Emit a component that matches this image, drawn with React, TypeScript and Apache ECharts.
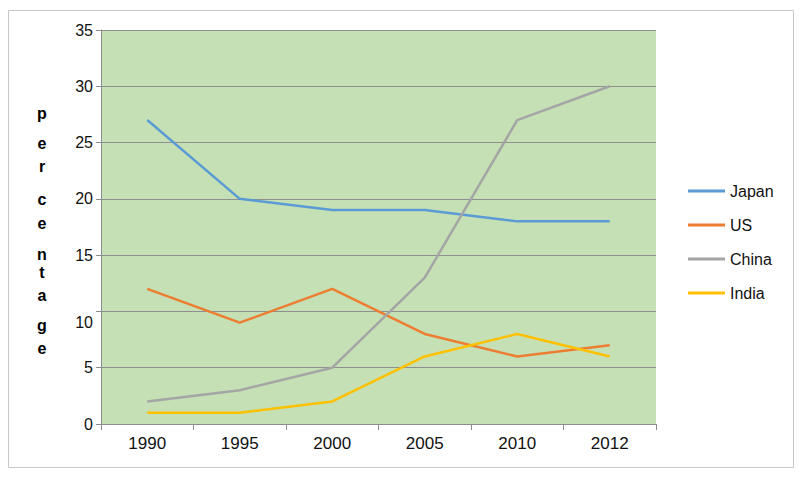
import React, { useEffect, useRef } from "react";
import * as echarts from "echarts";

const years = ["1990", "1995", "2000", "2005", "2010", "2012"];
const japan = [27, 20, 19, 19, 18, 18];
const us = [12, 9, 12, 8, 6, 7];
const china = [2, 3, 5, 13, 27, 30];
const india = [1, 1, 2, 6, 8, 6];
const seriesNames = ["Japan", "US", "China", "India"];
const seriesColors = ["#5B9BD5", "#ED7D31", "#A5A5A5", "#FFC000"];
const axisTitleLetters = ["p", "e", "r", "c", "e", "n", "t", "a", "g", "e"];
const letterY = [113, 143, 166, 199, 223, 254, 272, 295, 325, 348];

export default function App() {
  const ref = useRef<HTMLDivElement>(null);
  useEffect(() => {
    if (!ref.current) return;
    const chart = echarts.init(ref.current, undefined, { renderer: "svg" });
    const values = [japan, us, china, india];
    const font = "Liberation Sans, Arial, sans-serif";
    chart.setOption({
      animation: false,
      textStyle: { fontFamily: font },
      grid: { left: 101, top: 30, width: 555, height: 394, containLabel: false, show: true, backgroundColor: "#C5E0B4", borderWidth: 0 },
      xAxis: {
        type: "category",
        data: years,
        boundaryGap: true,
        axisLine: { lineStyle: { color: "#8c8c8c", width: 1 } },
        axisTick: { show: true, length: 6, lineStyle: { color: "#8c8c8c" } },
        axisLabel: { color: "#111", fontSize: 17, margin: 11, fontFamily: font },
        splitLine: { show: false },
      },
      yAxis: {
        type: "value",
        min: 0,
        max: 35,
        interval: 5,
        axisLine: { show: true, lineStyle: { color: "#8c8c8c", width: 1 } },
        axisTick: { show: true, length: 5, lineStyle: { color: "#8c8c8c" } },
        axisLabel: {
          color: "#111",
          fontSize: 16,
          margin: 8,
          fontFamily: font,
          formatter: (v: number) => (v === 10 ? "{low|10}" : String(v)),
          rich: { low: { fontSize: 16, color: "#111", fontFamily: font, padding: [22, 0, 0, 0] } },
        },
        splitLine: { show: true, lineStyle: { color: "#8f8f8f", width: 1 } },
      },
      legend: {
        orient: "vertical",
        left: 683,
        top: 178,
        itemWidth: 37,
        itemHeight: 3,
        itemGap: 18,
        icon: "rect",
        textStyle: { color: "#111", fontSize: 16, fontFamily: font, padding: [9, 0, 0, 0] },
        data: seriesNames,
      },
      series: seriesNames.map((name, i) => ({
        name,
        type: "line",
        data: values[i],
        symbol: "none",
        lineStyle: { color: seriesColors[i], width: 2.5 },
        itemStyle: { color: seriesColors[i] },
      })),
      graphic: [
        {
          type: "rect",
          shape: { x: 8.5, y: 10.5, width: 785, height: 457 },
          style: { fill: "none", stroke: "#c8c8c8", lineWidth: 1 },
          silent: true,
          z: -10,
        },
        ...axisTitleLetters.map((ch, i) => ({
          type: "text",
          x: 42,
          y: letterY[i],
          style: {
            text: ch,
            fontSize: 16,
            fontWeight: "bold",
            fontFamily: font,
            fill: "#000",
            align: "center",
            verticalAlign: "middle",
          },
        })),
      ],
    });
    return () => chart.dispose();
  }, []);
  return <div ref={ref} style={{ position: "absolute", left: 0, top: 0, width: 800, height: 478 }} />;
}
